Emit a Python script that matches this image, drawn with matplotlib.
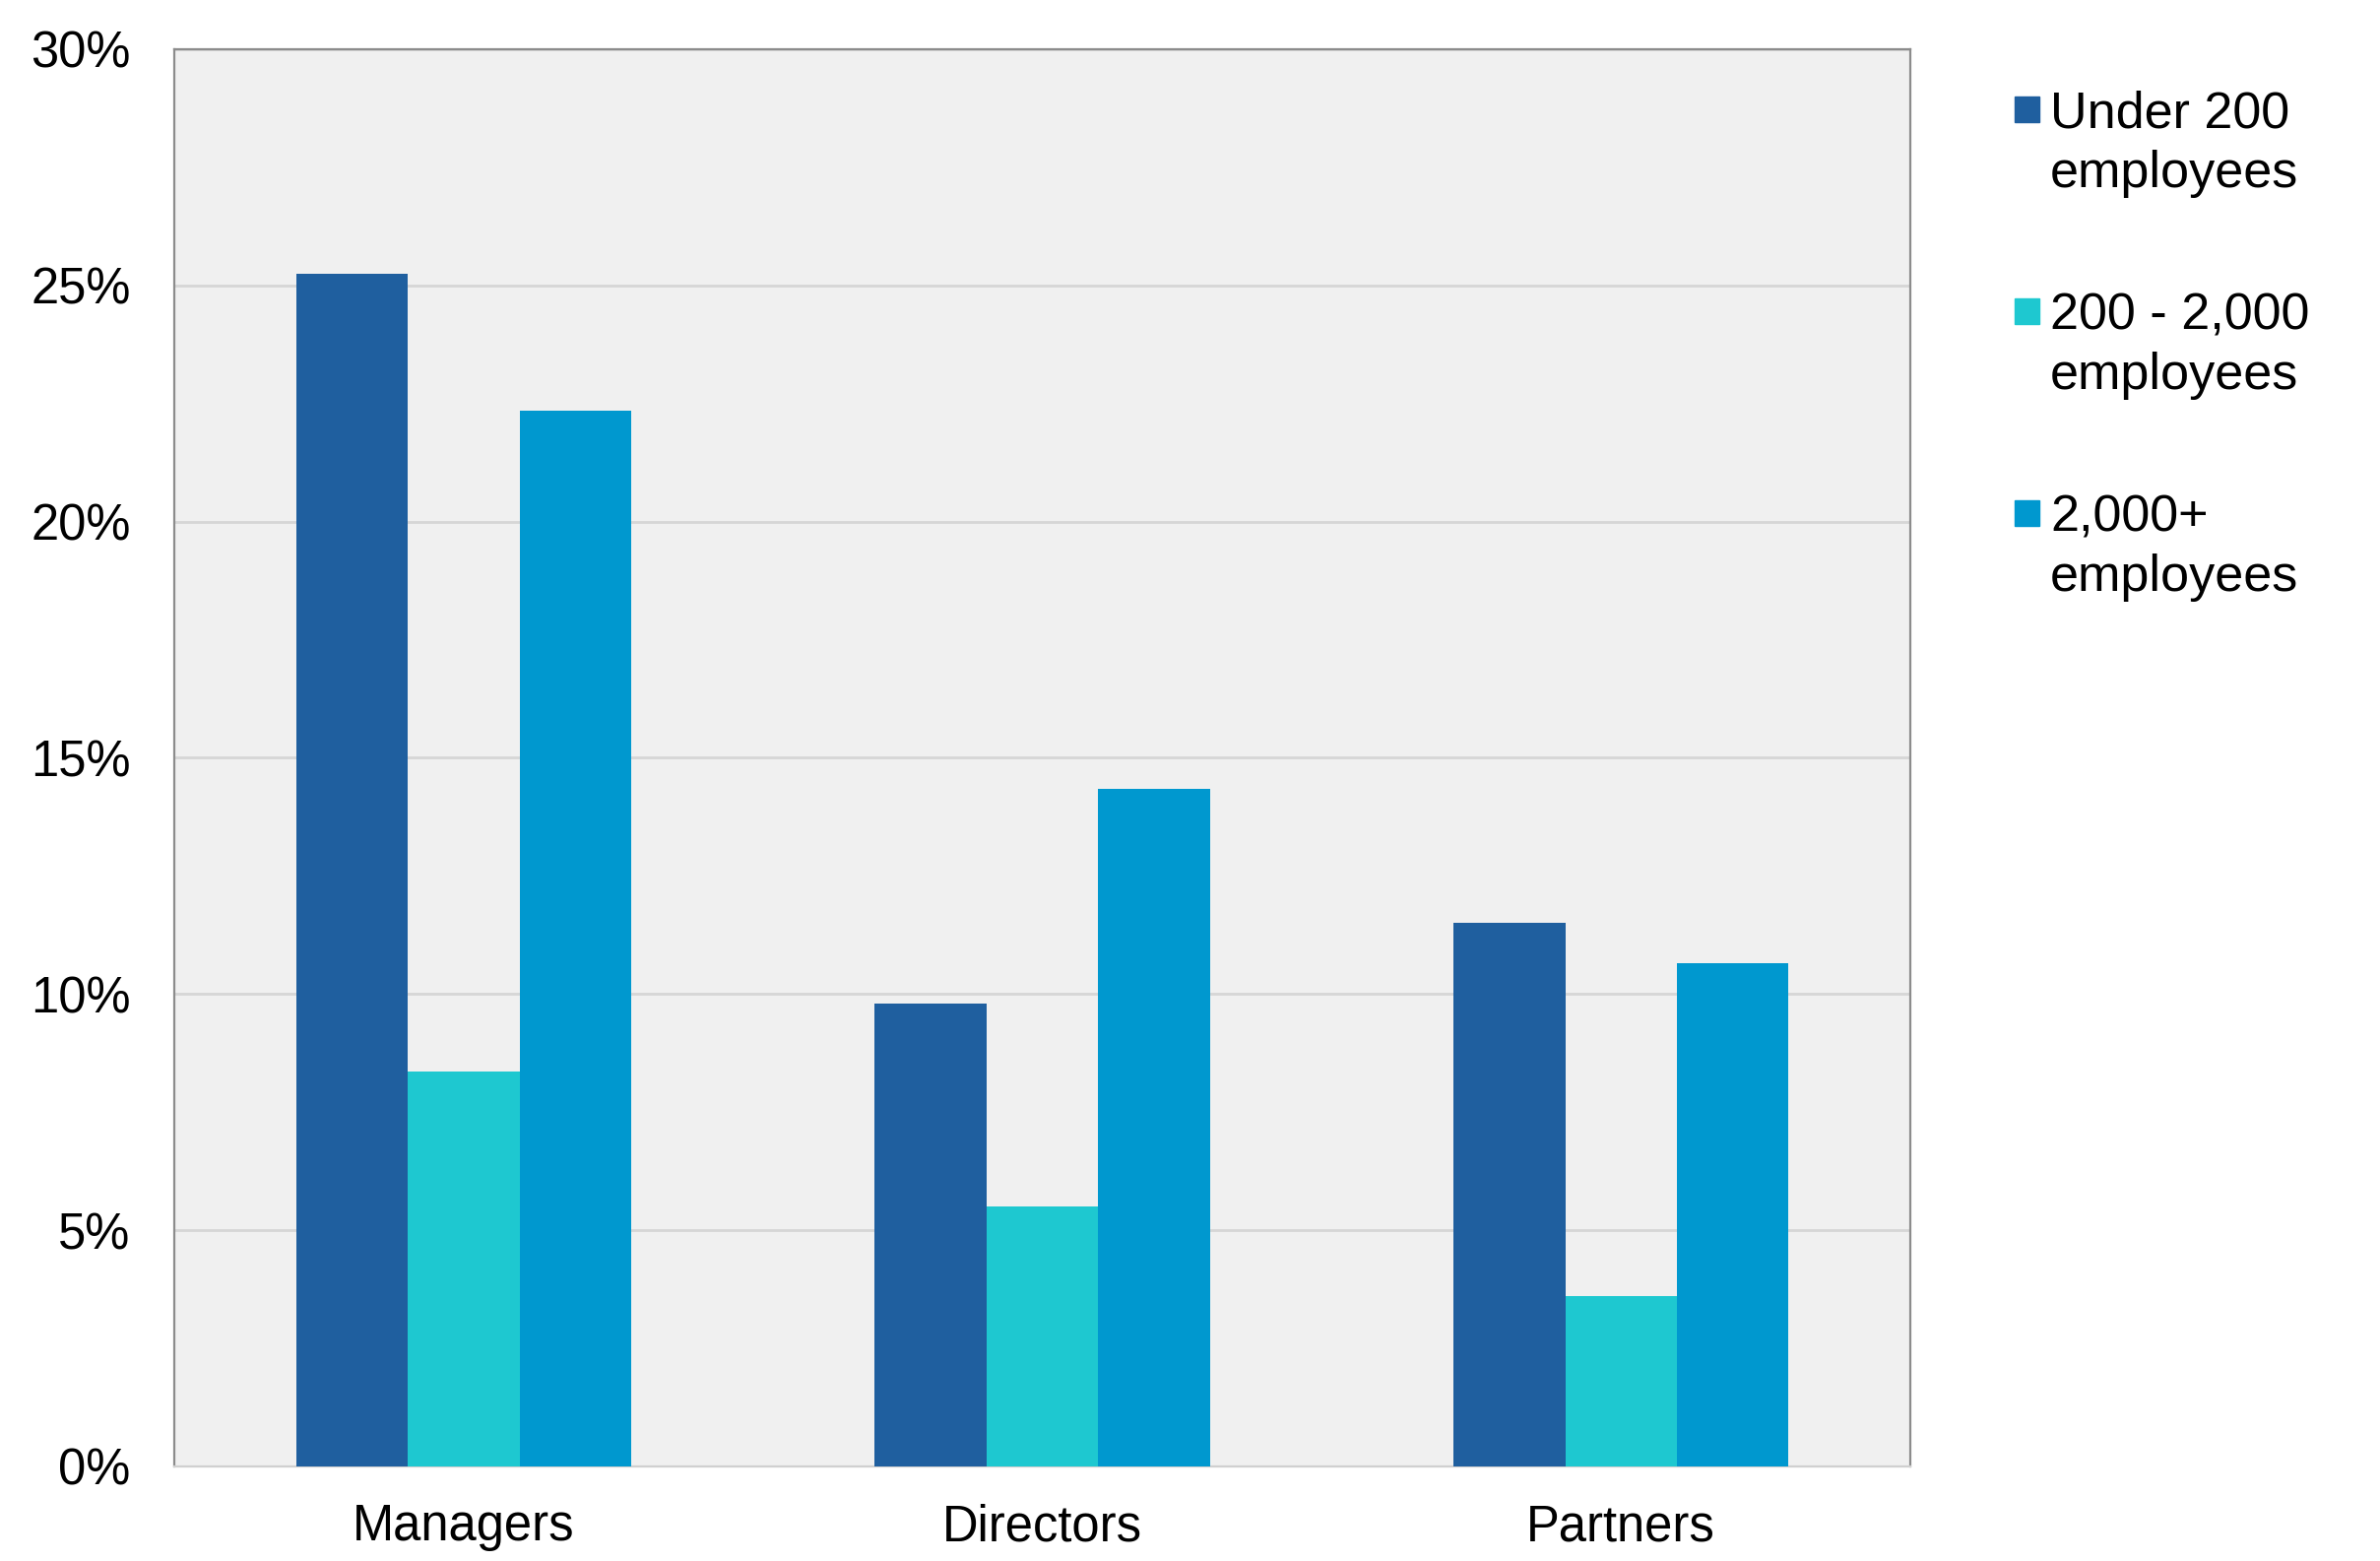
import matplotlib.pyplot as plt
from matplotlib.patches import Rectangle
from matplotlib.ticker import FuncFormatter

plt.rcParams["font.family"] = ["Liberation Sans", "DejaVu Sans"]

# data (percent)
categories = ["Managers", "Directors", "Partners"]
series_labels = ["Under 200\nemployees", "200 - 2,000\nemployees", "2,000+\nemployees"]
under_200 = [25.25, 9.8, 11.5]
mid_size = [8.35, 5.5, 3.6]
large = [22.35, 14.35, 10.65]
colors = ["#1F5F9F", "#1EC8D0", "#0098CF"]
y_ticks = [0, 5, 10, 15, 20, 25, 30]

fig = plt.figure(figsize=(24.17, 15.85), dpi=100)
ax = fig.add_axes([0.0732, 0.0606, 0.7295, 0.9079])
ax.set_facecolor("#F0F0F0")

width = 0.193
x = list(range(len(categories)))
for j, vals in enumerate([under_200, mid_size, large]):
    pos = [i + (j - 1) * width for i in x]
    ax.bar(pos, vals, width, color=colors[j], zorder=3, linewidth=0)

ax.set_xlim(-0.5, len(categories) - 0.5)
ax.set_ylim(0, 30)
ax.set_yticks(y_ticks)
ax.yaxis.set_major_formatter(FuncFormatter(lambda v, _: f"{v:.0f}%"))
ax.set_xticks(x)
ax.set_xticklabels(categories)
ax.tick_params(axis="both", length=0, labelsize=36.5, colors="black")
ax.tick_params(axis="y", pad=32)
ax.tick_params(axis="x", pad=27)
ax.grid(axis="y", color="#D6D6D6", linewidth=2, zorder=1)

for side in ["left", "top", "right"]:
    ax.spines[side].set_color("#8C8C8C")
    ax.spines[side].set_linewidth(1.6)
ax.spines["bottom"].set_color("#D0D0D0")
ax.spines["bottom"].set_linewidth(1.6)

# legend drawn by hand so the marker sits on the first text line
for k, (lab, col) in enumerate(zip(series_labels, colors)):
    yc = 0.930 - k * 0.1293
    fig.patches.append(Rectangle((0.8465, yc - 0.008), 0.0105, 0.016,
                                 transform=fig.transFigure, color=col))
    fig.text(0.8614, yc + 0.0125, lab, fontsize=37.5, va="top", ha="left",
             linespacing=1.32)

fig.savefig("out.png", dpi=100)
